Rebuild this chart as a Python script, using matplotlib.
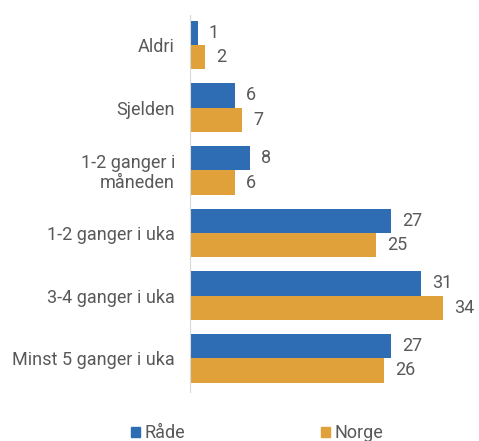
import numpy as np
import matplotlib.pyplot as plt
from matplotlib.patches import Patch

kategorier = ["Aldri", "Sjelden", "1-2 ganger i\nmåneden", "1-2 ganger i uka",
              "3-4 ganger i uka", "Minst 5 ganger i uka"]
rade = [1, 6, 8, 27, 31, 27]
norge = [2, 7, 6, 25, 34, 26]

blaa = "#2E6DB4"
oransje = "#E0A03A"
grå = "#595959"

plt.rcParams['font.family'] = ['Roboto', 'DejaVu Sans']

fig = plt.figure(figsize=(4.79, 4.41), dpi=100)
ax = fig.add_axes([0.397, 0.111, 0.59, 0.855])

y = np.arange(len(kategorier))
h = 0.39
ax.barh(y - h/2, rade, height=h, color=blaa)
ax.barh(y + h/2, norge, height=h, color=oransje)

fs = 13
for i in range(len(kategorier)):
    ax.text(rade[i] + 1.5, y[i] - h/2, str(rade[i]), va='center', ha='left',
            fontsize=fs, color=grå)
    ax.text(norge[i] + 1.5, y[i] + h/2, str(norge[i]), va='center', ha='left',
            fontsize=fs, color=grå)

ax.set_xlim(0, 38)
ax.set_ylim(5.54, -0.48)
ax.set_yticks(y)
ax.set_yticklabels(kategorier, fontsize=fs, color=grå, linespacing=1.1)
ax.tick_params(axis='y', length=0, pad=11)
ax.set_xticks([])
for s in ['top', 'right', 'bottom']:
    ax.spines[s].set_visible(False)
ax.spines['left'].set_color("#d9d9d9")

handles = [Patch(color=blaa, label="Råde"), Patch(color=oransje, label="Norge")]
leg = fig.legend(handles=handles, loc='lower left', bbox_to_anchor=(0.24, -0.04),
                 ncol=2, frameon=False, fontsize=fs, handlelength=0.5, handleheight=0.5,
                 handletextpad=0.25, columnspacing=7.5)
for t in leg.get_texts():
    t.set_color(grå)

fig.savefig("out.png", dpi=100)
